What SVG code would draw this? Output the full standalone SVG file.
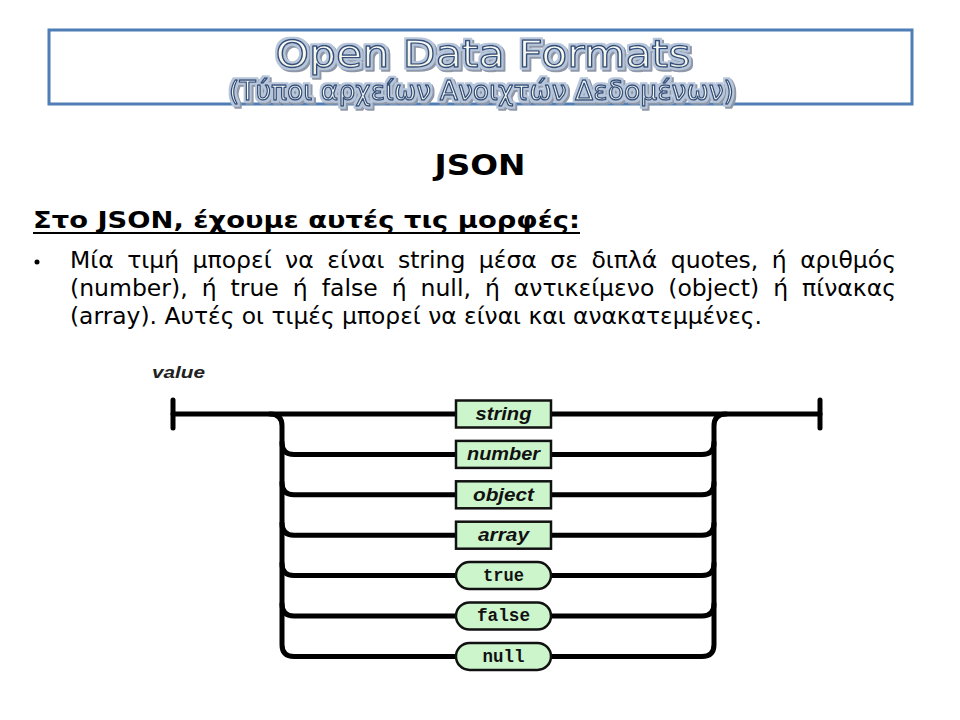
<svg xmlns="http://www.w3.org/2000/svg" width="960" height="720" viewBox="0 0 960 720">
<defs>
<linearGradient id="tg" x1="0" y1="0" x2="0" y2="1">
<stop offset="0" stop-color="#ffffff"/>
<stop offset="1" stop-color="#f0efdc"/>
</linearGradient>
<filter id="glow" x="-5%" y="-30%" width="110%" height="160%">
<feMorphology in="SourceAlpha" operator="dilate" radius="2" result="d"/>
<feFlood flood-color="#b7c6da"/>
<feComposite in2="d" operator="in" result="halo"/>
<feOffset in="d" dx="2" dy="2" result="o"/>
<feFlood flood-color="#8f98a8"/>
<feComposite in2="o" operator="in" result="sh"/>
<feMerge><feMergeNode in="sh"/><feMergeNode in="halo"/><feMergeNode in="SourceGraphic"/></feMerge>
</filter>
</defs>
<style>
.ttl{font-family:"DejaVu Sans",Verdana,sans-serif;text-anchor:middle;fill:url(#tg);stroke:#33507c;stroke-width:1.3;stroke-linejoin:round;filter:url(#glow)}
.body{font-family:"DejaVu Sans",Verdana,sans-serif;font-size:23.5px;fill:#000}
.wire{fill:none;stroke:#000;stroke-width:5;stroke-linecap:round;stroke-linejoin:round}
.box{fill:#ccf5cc;stroke:#111;stroke-width:2.5}
.lbl{font-family:"Liberation Sans",Arial,sans-serif;font-weight:bold;font-style:italic;font-size:18px;text-anchor:middle;fill:#111}
.lit{font-family:"Liberation Mono","Courier New",monospace;font-weight:bold;font-size:18px;text-anchor:middle;fill:#111}
</style>
<rect width="960" height="720" fill="#fff"/>
<g id="title">
<rect x="49" y="30" width="863" height="74" fill="#fff" stroke="#4f7db5" stroke-width="3"/>
<text class="ttl" x="483" y="67" font-size="38" textLength="415" lengthAdjust="spacingAndGlyphs">Open Data Formats</text>
<text class="ttl" x="481.5" y="100" font-size="26.5" textLength="505" lengthAdjust="spacingAndGlyphs">(Τύποι αρχείων Ανοιχτών Δεδομένων)</text>
</g>
<g id="heading">
<text x="480" y="175" font-family="DejaVu Sans,Verdana,sans-serif" font-weight="bold" font-size="29" text-anchor="middle" textLength="91" lengthAdjust="spacingAndGlyphs">JSON</text>
<text x="33" y="228" font-family="DejaVu Sans,Verdana,sans-serif" font-weight="bold" font-size="22.5" textLength="547" lengthAdjust="spacingAndGlyphs">Στο JSON, έχουμε αυτές τις μορφές:</text>
<rect x="33" y="232" width="547" height="2" fill="#000"/>
</g>
<g id="bullet-text">
<circle cx="37" cy="262" r="2.5" fill="#000"/>
<text class="body" x="70" y="268" word-spacing="6" textLength="826" lengthAdjust="spacingAndGlyphs">Μία τιμή μπορεί να είναι string μέσα σε διπλά quotes, ή αριθμός</text>
<text class="body" x="70" y="296" word-spacing="6.5" textLength="826" lengthAdjust="spacingAndGlyphs">(number), ή true ή false ή null, ή αντικείμενο (object) ή πίνακας</text>
<text class="body" x="70" y="324" textLength="692" lengthAdjust="spacingAndGlyphs">(array). Αυτές οι τιμές μπορεί να είναι και ανακατεμμένες.</text>
</g>
<g id="diagram-label">
<text x="152" y="378" font-family="Liberation Sans,Arial,sans-serif" font-weight="bold" font-style="italic" font-size="17" fill="#222" textLength="53" lengthAdjust="spacingAndGlyphs">value</text>
</g>
<g id="connectors" class="wire">
<path d="M173,400 V428"/>
<path d="M820,400 V428"/>
<path d="M173,414 H456"/>
<path d="M551,414 H820"/>
<path d="M270,414 Q282,414 282,426 V644.4 Q282,656.4 294,656.4 H456"/>
<path d="M282,442.4 Q282,454.4 294,454.4 H456"/>
<path d="M282,482.8 Q282,494.8 294,494.8 H456"/>
<path d="M282,523.2 Q282,535.2 294,535.2 H456"/>
<path d="M282,563.6 Q282,575.6 294,575.6 H456"/>
<path d="M282,604 Q282,616 294,616 H456"/>
<path d="M551,656.4 H702 Q714,656.4 714,644.4 V426 Q714,414 726,414"/>
<path d="M551,454.4 H702 Q714,454.4 714,442.4"/>
<path d="M551,494.8 H702 Q714,494.8 714,482.8"/>
<path d="M551,535.2 H702 Q714,535.2 714,523.2"/>
<path d="M551,575.6 H702 Q714,575.6 714,563.6"/>
<path d="M551,616 H702 Q714,616 714,604"/>
</g>
<g id="node-string"><rect class="box" x="456" y="400.5" width="95" height="27"/><text class="lbl" x="503.5" y="420" textLength="56" lengthAdjust="spacingAndGlyphs">string</text></g>
<g id="node-number"><rect class="box" x="456" y="440.9" width="95" height="27"/><text class="lbl" x="503.5" y="460.4" textLength="73" lengthAdjust="spacingAndGlyphs">number</text></g>
<g id="node-object"><rect class="box" x="456" y="481.3" width="95" height="27"/><text class="lbl" x="503.5" y="500.8" textLength="61" lengthAdjust="spacingAndGlyphs">object</text></g>
<g id="node-array"><rect class="box" x="456" y="521.7" width="95" height="27"/><text class="lbl" x="503.5" y="541.2" textLength="51" lengthAdjust="spacingAndGlyphs">array</text></g>
<g id="node-true"><rect class="box" x="456" y="562.1" width="95" height="27" rx="13.5"/><text class="lit" x="503.5" y="581" textLength="41" lengthAdjust="spacingAndGlyphs">true</text></g>
<g id="node-false"><rect class="box" x="456" y="602.5" width="95" height="27" rx="13.5"/><text class="lit" x="503.5" y="621.4" textLength="53" lengthAdjust="spacingAndGlyphs">false</text></g>
<g id="node-null"><rect class="box" x="456" y="642.9" width="95" height="27" rx="13.5"/><text class="lit" x="503.5" y="661.8" textLength="42" lengthAdjust="spacingAndGlyphs">null</text></g>
</svg>
